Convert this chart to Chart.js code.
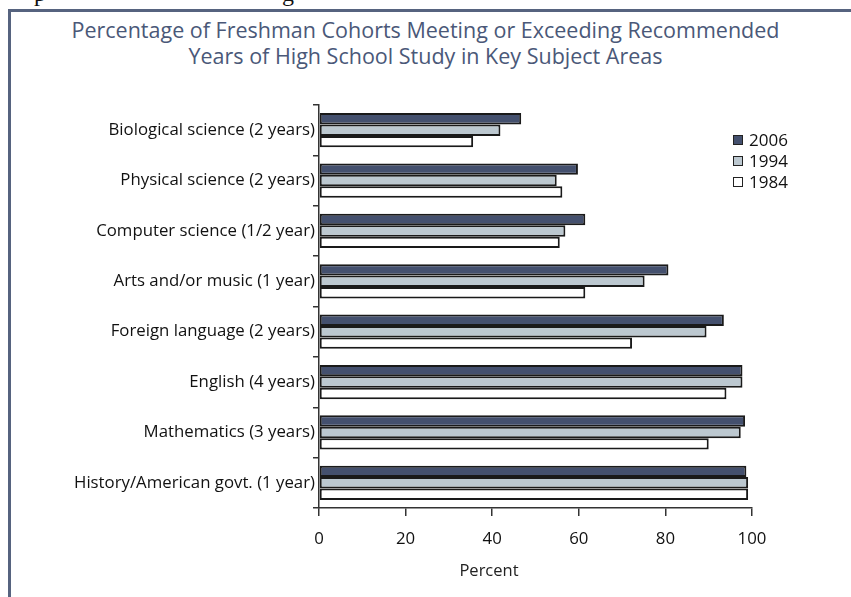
<!DOCTYPE html>
<html lang="en">
<head>
  <meta charset="UTF-8">
  <title>Freshman Cohorts - Recommended Years of Study</title>
  <script src="https://cdn.jsdelivr.net/npm/chart.js"></script>
  <style>
    html, body {
      margin: 0;
      padding: 0;
      background: #ffffff;
    }
    body {
      width: 851px;
      height: 597px;
      position: relative;
      overflow: hidden;
      font-family: "Open Sans", "Noto Sans", sans-serif;
    }
    #frame {
      position: absolute;
      left: 8px;
      top: 9px;
      right: -10px;
      bottom: -10px;
      border-left: 3px solid #56637f;
      border-top: 3px solid #56637f;
    }
    .stray {
      position: absolute;
      top: -20px;
      font-family: "Liberation Serif", serif;
      font-size: 24px;
      color: #111;
    }
    #title {
      position: absolute;
      left: 0;
      top: 17px;
      width: 851px;
      text-align: center;
      color: #4a5878;
      font-size: 21.5px;
      line-height: 26px;
    }
    #chart {
      position: absolute;
      left: 0;
      top: 0;
    }
    #legend {
      position: absolute;
      left: 733px;
      top: 129px;
      font-size: 17px;
      color: #111;
    }
    #legend div {
      height: 21px;
      line-height: 21px;
      display: flex;
      align-items: center;
    }
    #legend span.box {
      display: inline-block;
      width: 8px;
      height: 8px;
      border: 1px solid #222;
      margin-right: 6px;
    }
    #xTitle {
      position: absolute;
      left: 389px;
      width: 200px;
      top: 558px;
      text-align: center;
      font-size: 16.5px;
      color: #222;
    }
  </style>
</head>
<body>

<span class="stray" style="left:34px">p</span>
<span class="stray" style="left:282px">g</span>
<div id="frame"></div>

<div id="title">Percentage of Freshman Cohorts Meeting or Exceeding Recommended<br>Years of High School Study in Key Subject Areas</div>

<canvas id="chart" width="851" height="597"></canvas>

<div id="legend"></div>
<div id="xTitle">Percent</div>

<script>
  const categories = [
    'Biological science (2 years)',
    'Physical science (2 years)',
    'Computer science (1/2 year)',
    'Arts and/or music (1 year)',
    'Foreign language (2 years)',
    'English (4 years)',
    'Mathematics (3 years)',
    'History/American govt. (1 year)'
  ];
  const years = ['2006', '1994', '1984'];
  const values2006 = [46.7, 59.8, 61.5, 80.7, 93.5, 97.8, 98.4, 98.7];
  const values1994 = [41.9, 54.9, 56.9, 75.2, 89.5, 97.8, 97.4, 99.1];
  const values1984 = [35.6, 56.2, 55.6, 61.5, 72.3, 94.1, 90.0, 99.1];
  const xTicks = [0, 20, 40, 60, 80, 100];

  const colors = ['#44506e', '#bcc8d0', '#ffffff'];
  const seriesValues = [values2006, values1994, values1984];

  const datasets = years.map((y, i) => ({
    label: y,
    data: seriesValues[i],
    backgroundColor: colors[i],
    borderColor: '#1a1a1a',
    borderWidth: 2,
    borderSkipped: false,
    barPercentage: 1.0,
    categoryPercentage: 0.68
  }));

  // legend drawn in html from the same datasets
  const legend = document.getElementById('legend');
  datasets.forEach(ds => {
    const row = document.createElement('div');
    row.innerHTML = `<span class="box" style="background:${ds.backgroundColor}"></span>${ds.label}`;
    legend.appendChild(row);
  });

  const font = { family: '"Open Sans", "Noto Sans", sans-serif', size: 16.8 };

  new Chart(document.getElementById('chart'), {
    type: 'bar',
    data: { labels: categories, datasets },
    options: {
      indexAxis: 'y',
      responsive: false,
      animation: false,
      layout: { padding: { left: 0, top: 105, right: 99, bottom: 0 } },
      plugins: {
        legend: { display: false },
        tooltip: { enabled: false }
      },
      scales: {
        x: {
          min: 0,
          max: 100,
          afterFit: s => { s.height = 89; },
          afterBuildTicks: s => { s.ticks = xTicks.map(v => ({ value: v })); },
          grid: { drawOnChartArea: false, tickLength: 8, color: '#333', lineWidth: 1.5 },
          border: { color: '#333', width: 1.5 },
          ticks: { color: '#111', font, padding: 13, maxRotation: 0 }
        },
        y: {
          afterFit: s => { s.width = 319; },
          grid: { drawOnChartArea: false, tickLength: 6, color: '#333', lineWidth: 1.5, offset: true },
          border: { color: '#333', width: 1.5 },
          ticks: { color: '#111', font, padding: -2, autoSkip: false }
        }
      }
    }
  });
</script>

</body>
</html>
